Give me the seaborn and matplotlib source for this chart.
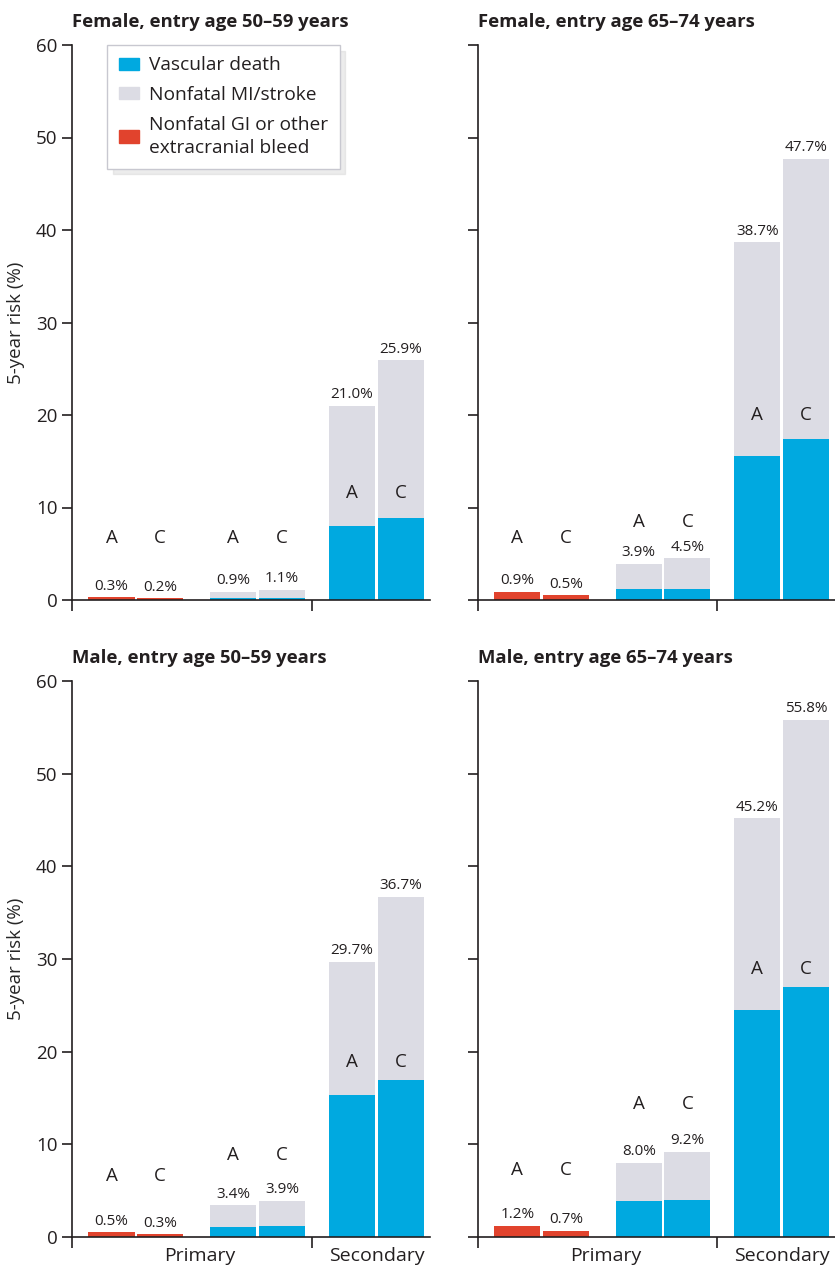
import matplotlib
matplotlib.use("Agg")
import pandas as pd
import matplotlib.pyplot as plt
import seaborn as sns
from matplotlib.patches import Patch

# chart data (5-year risk, %)
panel_titles = ["Female, entry age 50–59 years", "Female, entry age 65–74 years",
                "Male, entry age 50–59 years", "Male, entry age 65–74 years"]
arms = ["A", "C"]
bleed = [[0.3, 0.2], [0.9, 0.5], [0.5, 0.3], [1.2, 0.7]]
primary_vasc = [[0.2, 0.2], [1.2, 1.2], [1.1, 1.2], [3.9, 4.0]]
primary_total = [[0.9, 1.1], [3.9, 4.5], [3.4, 3.9], [8.0, 9.2]]
secondary_vasc = [[8.0, 8.9], [15.6, 17.4], [15.3, 16.9], [24.5, 27.0]]
secondary_total = [[21.0, 25.9], [38.7, 47.7], [29.7, 36.7], [45.2, 55.8]]
group_labels = ["Primary", "Secondary"]
legend_labels = ["Vascular death", "Nonfatal MI/stroke", "Nonfatal GI or other\nextracranial bleed"]

# layout
BLUE, GRAY, RED, INK = "#00a9e0", "#dcdce4", "#e1432d", "#231f20"
red_x = [0.81, 1.81]
prim_x = [3.31, 4.31]
sec_x = [5.75, 6.75]
letter_y = [[6.7, 6.7, 11.6], [6.7, 8.4, 20.0], [6.6, 8.8, 18.9], [7.2, 14.3, 28.9]]
W, H = 835, 1266
boxes = [(72, 45, 358, 555), (478, 45, 357, 555), (72, 681, 358, 556), (478, 681, 357, 556)]

sns.set_style("ticks")
plt.rcParams["font.family"] = ["Open Sans", "DejaVu Sans"]
plt.rcParams["text.color"] = INK

fig = plt.figure(figsize=(W / 100, H / 100), dpi=100)

for i, (l, t, w, h) in enumerate(boxes):
    ax = fig.add_axes([l / W, 1 - (t + h) / H, w / W, h / H])
    stack = pd.DataFrame({"x": prim_x + sec_x,
                          "total": primary_total[i] + secondary_total[i],
                          "vasc": primary_vasc[i] + secondary_vasc[i]})
    bl = pd.DataFrame({"x": red_x, "bleed": bleed[i]})
    opts = dict(native_scale=True, width=0.95, linewidth=0, errorbar=None, saturation=1, ax=ax)
    sns.barplot(data=stack, x="x", y="total", color=GRAY, **opts)
    sns.barplot(data=stack, x="x", y="vasc", color=BLUE, **opts)
    sns.barplot(data=bl, x="x", y="bleed", color=RED, **opts)

    # value labels
    for x, v in zip(red_x + prim_x + sec_x, bleed[i] + primary_total[i] + secondary_total[i]):
        ax.annotate(f"{v:.1f}%", (x, v), xytext=(0, 2.5), textcoords="offset points",
                    ha="center", va="bottom", fontsize=11)
    # A / C letters
    for g, xs in enumerate([red_x, prim_x, sec_x]):
        for x, arm in zip(xs, arms):
            ax.text(x, letter_y[i][g], arm, ha="center", va="center", fontsize=13.5)

    ax.set_xlim(0, 7.35)
    ax.set_ylim(0, 60)
    ax.set_yticks(range(0, 61, 10))
    ax.set_xticks([0, 4.93])
    ax.set_xticklabels([])
    ax.set_xticks([2.63, 6.25], minor=True)
    ax.tick_params(which="major", length=7, width=1.2, color=INK, labelsize=13.5, labelcolor=INK)
    ax.tick_params(axis="x", which="major", length=8)
    ax.tick_params(axis="x", which="minor", length=0, pad=7, labelsize=14, labelcolor=INK)
    if i >= 2:
        ax.set_xticklabels(group_labels, minor=True)
    else:
        ax.set_xticklabels([], minor=True)
    if i % 2 == 0:
        ax.set_ylabel("5-year risk (%)", fontsize=13.5, labelpad=8)
    else:
        ax.set_ylabel("")
        ax.tick_params(axis="y", labelleft=False)
    ax.set_xlabel("")
    ax.set_title(panel_titles[i], loc="left", fontsize=13.3, fontweight="bold", pad=13)
    sns.despine(ax=ax)
    for s in ["left", "bottom"]:
        ax.spines[s].set_linewidth(1.2)
        ax.spines[s].set_color(INK)

    if i == 0:
        handles = [Patch(color=c, label=lab) for c, lab in zip([BLUE, GRAY, RED], legend_labels)]
        leg = ax.legend(handles=handles, loc="upper left", bbox_to_anchor=(0.098, 1.0), borderaxespad=0,
                        fontsize=13.8, frameon=True, fancybox=False, edgecolor="#c8c8d0",
                        handlelength=1.05, handleheight=0.62, handletextpad=0.55,
                        labelspacing=0.6, borderpad=0.6,
                        shadow={"color": "#d0d0d0", "alpha": 0.4, "ox": 4, "oy": -4})
        leg.get_texts()[2].set_linespacing(1.4)
        leg.get_frame().set_linewidth(1.0)

fig.savefig("out.png", dpi=100)
